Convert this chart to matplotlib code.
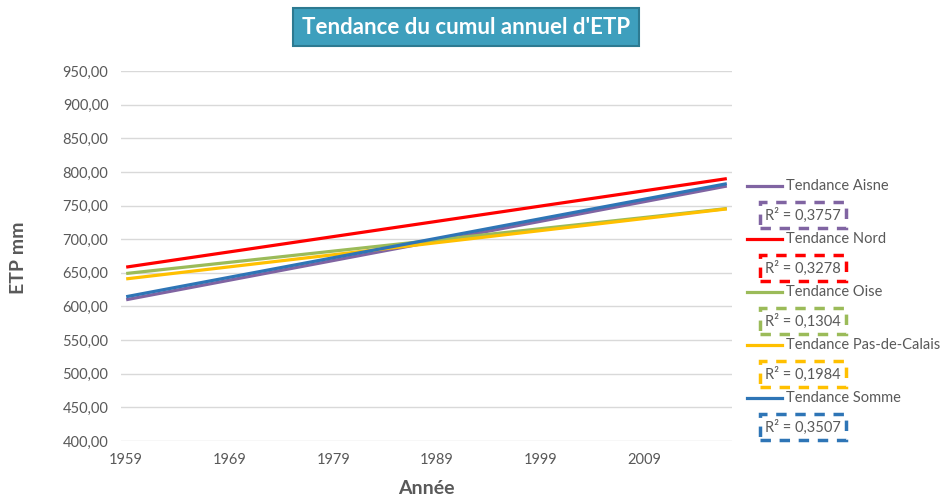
import matplotlib.pyplot as plt
from matplotlib.lines import Line2D

plt.rcParams['font.family'] = ['Lato', 'DejaVu Sans']

# trend lines: value at first and last year
years = [1959, 2017]
series = ['Aisne', 'Nord', 'Oise', 'Pas-de-Calais', 'Somme']
start_vals = [610.0, 658.5, 649.0, 641.0, 614.5]
end_vals = [779.0, 790.0, 745.5, 745.0, 782.5]
r2_vals = ['0,3757', '0,3278', '0,1304', '0,1984', '0,3507']
colors = ['#8064A2', '#FF0000', '#9BBB59', '#FFC000', '#2E75B6']

xticks = [1959, 1969, 1979, 1989, 1999, 2009]
yticks = [400, 450, 500, 550, 600, 650, 700, 750, 800, 850, 900, 950]
ylabels = ['%d,00' % v for v in yticks]

W, H = 940, 497
fig = plt.figure(figsize=(W / 100, H / 100), dpi=100)
ax = fig.add_axes([121 / W, 1 - 441 / H, (732 - 121) / W, (441 - 71) / H])

for name, y0, y1, c in zip(series, start_vals, end_vals, colors):
    ax.plot(years, [y0, y1], color=c, lw=2.3, solid_capstyle='butt')

ax.set_xlim(1958.5, 2017.5)
ax.set_ylim(400, 950)
ax.set_xticks(xticks)
ax.set_yticks(yticks)
ax.set_yticklabels(ylabels)
ax.grid(axis='y', color='#d9d9d9', lw=1)
ax.set_axisbelow(True)
for s in ax.spines.values():
    s.set_visible(False)
ax.tick_params(length=0, colors='#595959', labelsize=10.5)
ax.tick_params(axis='y', pad=9)
ax.tick_params(axis='x', pad=9)

fig.text(18 / W, 1 - 258 / H, 'ETP mm', rotation=90, ha='center', va='center',
         fontsize=14, fontweight='bold', color='#595959')
fig.text(426 / W, 1 - 489 / H, 'Année', ha='center', va='center',
         fontsize=14, fontweight='bold', color='#595959')

fig.text(466 / W, 1 - 27 / H, "Tendance du cumul annuel d'ETP", ha='center', va='center',
         fontsize=16, fontweight='bold', color='white',
         bbox=dict(boxstyle='square,pad=0.4', fc='#3E9FBD', ec='#2d7a91', lw=1.5))

# legend with R² boxes under each entry
for i, (name, r2, c) in enumerate(zip(series, r2_vals, colors)):
    ly = 1 - (186 + 53 * i) / H
    fig.add_artist(Line2D([747 / W, 782 / W], [ly, ly], color=c, lw=2.3,
                          transform=fig.transFigure))
    fig.text(786 / W, ly, 'Tendance ' + name, ha='left', va='center',
             fontsize=10.5, color='#595959')
    ry = 1 - (215 + 53 * i) / H
    fig.text(803 / W, ry, 'R² = ' + r2, ha='center', va='center',
             fontsize=10.5, color='#595959',
             bbox=dict(boxstyle='square,pad=0.37', fc='white', ec=c, lw=2.5,
                       ls=(0, (3, 2.5))))

fig.savefig('out.png', dpi=100)
